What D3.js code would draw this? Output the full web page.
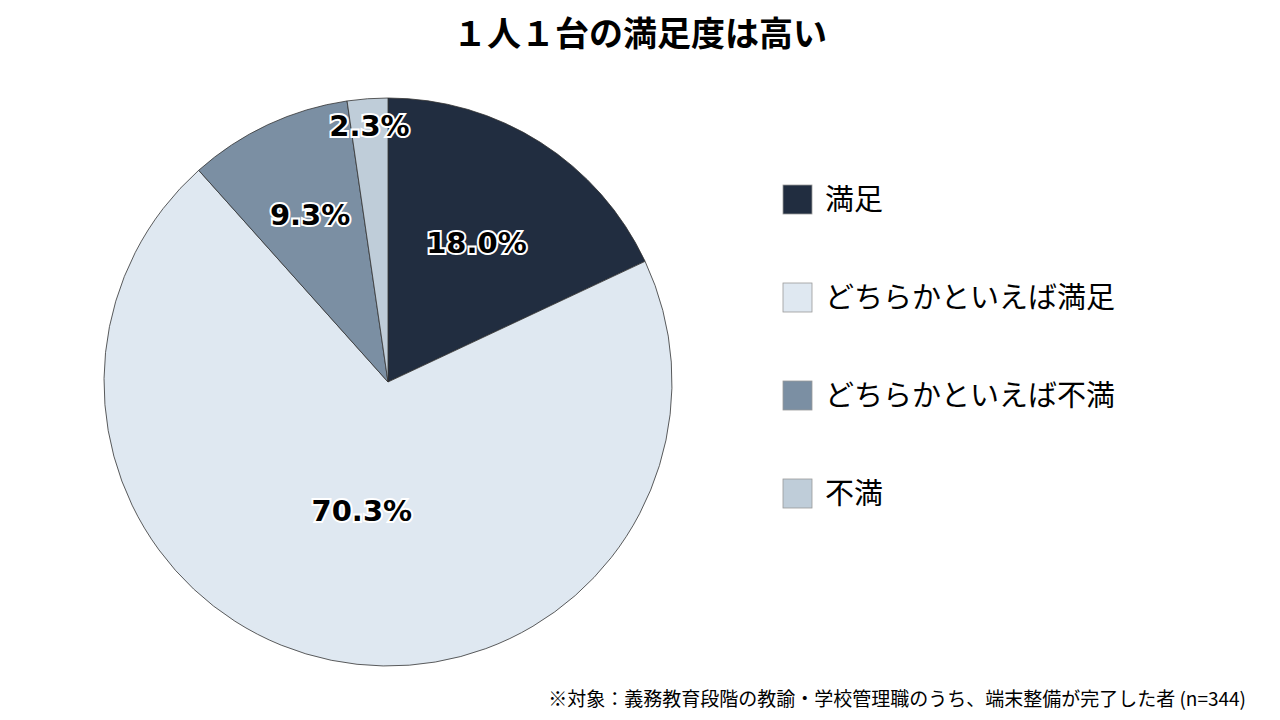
<!DOCTYPE html>
<html><head><meta charset="utf-8">
<script src="https://cdn.jsdelivr.net/npm/d3@7"></script>
<style>body{margin:0;background:#fff}</style></head>
<body><svg id="c" width="1280" height="720"></svg>
<script>
const categories=["満足","どちらかといえば満足","どちらかといえば不満","不満"];
const values=[18.0,70.3,9.3,2.3];
const colors=["#212d40","#dfe8f1","#7b8fa3","#bfcdd9"];
const labelRadius=[165,131,184,257];
const svg=d3.select("#c");
const font="'Noto Sans CJK JP','Noto Sans',sans-serif";
svg.append("text").attr("x",640).attr("y",46).attr("text-anchor","middle")
 .attr("font-family",font).attr("font-weight","bold").attr("font-size",34).text("１人１台の満足度は高い");
const cx=388,cy=382,R=284;
const g=svg.append("g").attr("transform",`translate(${cx},${cy})`);
const pie=d3.pie().sort(null).value(d=>d)(values);
const arc=d3.arc().innerRadius(0).outerRadius(R);
g.selectAll("path").data(pie).join("path").attr("d",arc)
 .attr("fill",(d,i)=>colors[i]).attr("stroke","#333").attr("stroke-width",0.8);
g.selectAll("text").data(pie).join("text")
 .attr("transform",(d,i)=>{const a=(d.startAngle+d.endAngle)/2;return `translate(${Math.sin(a)*labelRadius[i]},${-Math.cos(a)*labelRadius[i]})`;})
 .attr("text-anchor","middle").attr("dy","0.35em")
 .attr("font-family","'DejaVu Sans',sans-serif").attr("font-weight","bold").attr("font-size",29)
 .attr("fill","#000").attr("stroke","#fff").attr("stroke-width",4).attr("paint-order","stroke")
 .text(d=>d.value.toFixed(1)+"%");
const lg=svg.append("g");
categories.forEach((c,i)=>{
 const y=185+i*98;
 lg.append("rect").attr("x",783).attr("y",y).attr("width",29).attr("height",29)
  .attr("fill",colors[i]).attr("stroke","#999").attr("stroke-width",0.8);
 lg.append("text").attr("x",825).attr("y",y+25).attr("font-family",font).attr("font-size",29).text(c);
});
svg.append("text").attr("x",1246).attr("y",706).attr("text-anchor","end")
 .attr("font-family",font).attr("font-size",19).text("※対象：義務教育段階の教諭・学校管理職のうち、端末整備が完了した者 (n=344)");
</script></body></html>
